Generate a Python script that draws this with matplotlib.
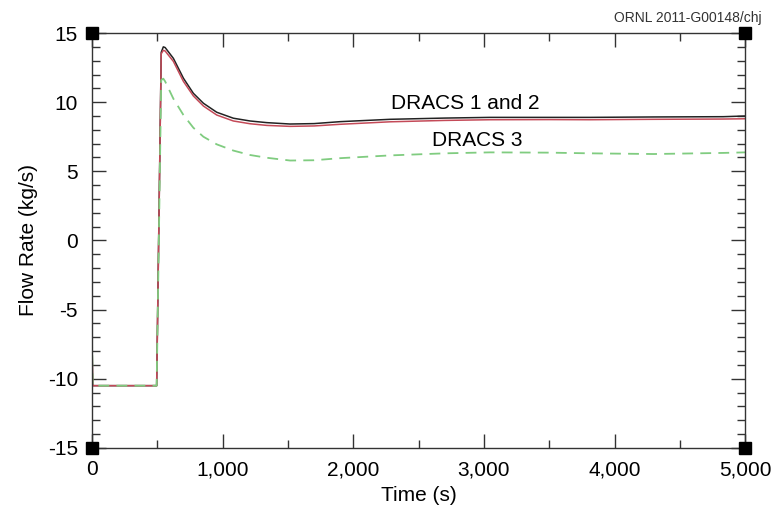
import matplotlib
matplotlib.use("Agg")
import matplotlib.pyplot as plt
from matplotlib.ticker import MultipleLocator, FuncFormatter

plt.rcParams["font.family"] = ["Liberation Sans", "DejaVu Sans"]
plt.rcParams["axes.unicode_minus"] = False

# time points (s)
time_s = [0, 5, 495, 530, 546, 560, 623, 700, 776, 853, 955, 1082, 1210,
          1338, 1516, 1700, 1899, 2282, 2700, 3047, 3500, 3813, 4300, 4832, 5000]
# flow rate (kg/s)
dracs1 = [-7.0, -10.5, -10.5, 13.6, 14.0, 13.95, 13.17, 11.73, 10.64, 9.92, 9.27,
          8.84, 8.64, 8.52, 8.42, 8.45, 8.59, 8.76, 8.85, 8.9, 8.9, 8.9, 8.93, 8.95, 9.0]
dracs2 = [-7.0, -10.5, -10.5, 13.5, 13.75, 13.7, 12.95, 11.5, 10.45, 9.72, 9.07,
          8.64, 8.44, 8.32, 8.25, 8.28, 8.4, 8.58, 8.68, 8.73, 8.74, 8.73, 8.76, 8.78, 8.8]
dracs3 = [-7.0, -10.5, -10.5, 11.6, 11.7, 11.5, 10.25, 9.07, 8.15, 7.5, 6.95,
          6.5, 6.18, 5.98, 5.78, 5.8, 5.95, 6.15, 6.3, 6.37, 6.35, 6.3, 6.25, 6.33, 6.37]

fig = plt.figure(figsize=(7.73, 5.16), dpi=100)
ax = fig.add_axes([0.119, 0.132, 0.845, 0.804])

ax.plot(time_s, dracs1, color="#222222", lw=1.1)
ax.plot(time_s, dracs2, color="#c44a58", lw=1.1)
ax.plot(time_s, dracs3, color="#80cc80", lw=1.3, ls=(0, (6, 4)))

ax.set_xlim(0, 5000)
ax.set_ylim(-15, 15)
ax.xaxis.set_major_locator(MultipleLocator(1000))
ax.xaxis.set_minor_locator(MultipleLocator(500))
ax.yaxis.set_major_locator(MultipleLocator(5))
ax.yaxis.set_minor_locator(MultipleLocator(1))
ax.xaxis.set_major_formatter(FuncFormatter(lambda v, p: f"{int(v):,}"))
ax.tick_params(which="both", direction="in", top=True, right=True,
               color="#333333", labelsize=15, width=1)
ax.tick_params(which="major", length=10)
ax.tick_params(axis="x", which="major", pad=9)
ax.tick_params(axis="y", which="major", pad=10)
ax.tick_params(which="minor", length=6)
for s in ax.spines.values():
    s.set_color("#333333")
    s.set_linewidth(1)

# black squares at the corners
ax.plot([0, 1, 0, 1], [0, 0, 1, 1], "s", color="black", ms=8,
        transform=ax.transAxes, clip_on=False, zorder=5)

ax.set_xlabel("Time (s)", fontsize=15, labelpad=5)
ax.set_ylabel("Flow Rate (kg/s)", fontsize=15, labelpad=7)

ax.text(2856, 9.9, "DRACS 1 and 2", fontsize=15, ha="center", va="center")
ax.text(2948, 7.2, "DRACS 3", fontsize=15, ha="center", va="center")
fig.text(0.985, 0.965, "ORNL 2011-G00148/chj", fontsize=10, ha="right",
         va="center", color="#333333")

fig.savefig("out.png", dpi=100)
